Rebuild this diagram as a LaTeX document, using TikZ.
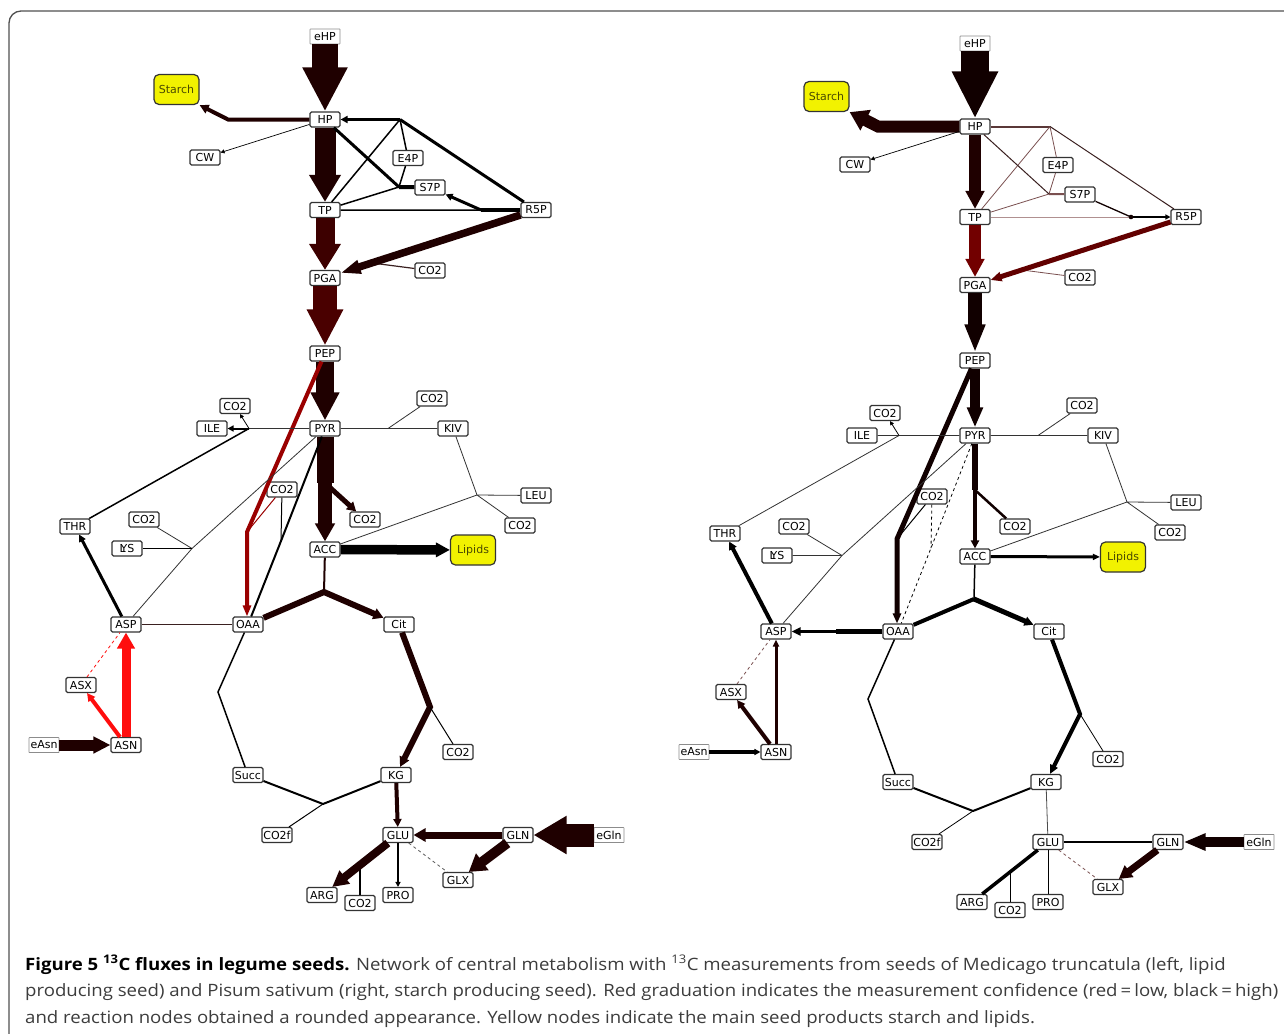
\documentclass[tikz,border=0pt]{standalone}
\usepackage{fontspec}
\usepackage{graphicx}
\usetikzlibrary{arrows.meta,calc}
\newfontfamily\nodefont{DejaVu Sans}
\newfontfamily\capfont{Open Sans}
\definecolor{cA}{HTML}{1F0000}
\definecolor{cB}{HTML}{3D0000}
\definecolor{cC}{HTML}{4A0000}
\definecolor{cR}{HTML}{9A0000}
\definecolor{cRR}{HTML}{FF0D0D}
\definecolor{cD}{HTML}{110000}
\definecolor{cE}{HTML}{720000}
\definecolor{cF}{HTML}{620000}
\definecolor{brA}{HTML}{5A3838}
\definecolor{brB}{HTML}{7A5050}
\definecolor{brC}{HTML}{B09090}
\definecolor{brD}{HTML}{3A2020}
\definecolor{prodY}{HTML}{F2F200}
\definecolor{prodT}{HTML}{4A4A00}
\definecolor{capT}{HTML}{3C3C3C}
\definecolor{frameC}{HTML}{505050}
\newsavebox\capbox
\newdimen\capw
\newcommand\lb[1]{\makebox[24pt]{#1}}
\newcommand\capsize{\capfont\fontsize{17}{20}\selectfont}
\tikzset{
  met/.style={draw=black!80, line width=1.1pt, rounded corners=1.5pt, fill=white,
    minimum width=30pt, minimum height=15pt, inner sep=0pt,
    font=\nodefont\fontsize{11}{13}\selectfont},
  extn/.style={met, draw=black!45, line width=0.7pt, rounded corners=0.5pt},
  prod/.style={draw=black!80, line width=1.2pt, rounded corners=5pt, fill=prodY,
    minimum width=45pt, minimum height=30pt, inner sep=0pt, text=prodT,
    font=\nodefont\fontsize{11}{13}\selectfont},
  ah/.style 2 args={-{Triangle[width=#1pt,length=#2pt]}},
  ahs/.style 2 args={{Triangle[width=#1pt,length=#2pt]}-},
  capline/.style={anchor=base west, inner sep=0pt, text=capT}
}
\newcommand\placenodes[1]{%
  \node[extn] (#1eHP) at (325,36.5) {\lb{eHP}};
  \node[prod] (#1Starch) at (176.5,89.5) {Starch};
  \node[met] (#1HP) at (325,119.5) {\lb{HP}};
  \node[met] (#1CW) at (205,157.5) {\lb{CW}};
  \node[met] (#1E4P) at (408,158) {\lb{E4P}};
  \node[met] (#1S7P) at (430,187.5) {\lb{S7P}};
  \node[met] (#1TP) at (325,210) {\lb{TP}};
  \node[met] (#1R5P) at (536,210) {\lb{R5P}};
  \node[met] (#1PGA) at (325,278) {\lb{PGA}};
  \node[met] (#1co2pga) at (430,270.5) {\lb{CO2}};
  \node[met] (#1PEP) at (325,353.5) {\lb{PEP}};
  \node[met] (#1co2ile) at (235,406) {\lb{CO2}};
  \node[met] (#1ILE) at (212,428.5) {\lb{ILE}};
  \node[met] (#1PYR) at (325,428.5) {\lb{PYR}};
  \node[met] (#1co2kiv) at (432,398.5) {\lb{CO2}};
  \node[met] (#1KIV) at (453,428.5) {\lb{KIV}};
  \node[met] (#1co2mid) at (282,489.5) {\lb{CO2}};
  \node[met] (#1LEU) at (536,495.5) {\lb{LEU}};
  \node[met] (#1co2leu) at (520,525.5) {\lb{CO2}};
  \node[met] (#1THR) at (75,526.5) {\lb{THR}};
  \node[met] (#1co2lys) at (144,519.5) {\lb{CO2}};
  \node[met] (#1LYS) at (127,548.5) {\lb{L\kern-5pt YS}};
  \node[met] (#1co2acc) at (365,519.5) {\lb{CO2}};
  \node[met] (#1ACC) at (325,549.5) {\lb{ACC}};
  \node[prod] (#1Lipids) at (473,550) {Lipids};
  \node[met] (#1ASP) at (126,624.5) {\lb{ASP}};
  \node[met] (#1OAA) at (248,624.5) {\lb{OAA}};
  \node[met] (#1Cit) at (399,624.5) {\lb{Cit}};
  \node[met] (#1ASX) at (81,685) {\lb{ASX}};
  \node[extn] (#1eAsn) at (44,745) {\lb{eAsn}};
  \node[met] (#1ASN) at (126,745) {\lb{ASN}};
  \node[met] (#1co2kg) at (458,752) {\lb{CO2}};
  \node[met] (#1Succ) at (248,775) {\lb{Succ}};
  \node[met] (#1KG) at (396,775) {\lb{KG}};
  \node[met] (#1CO2f) at (277,835) {\lb{CO2f}};
  \node[met] (#1GLU) at (398,835) {\lb{GLU}};
  \node[met] (#1GLN) at (518,835) {\lb{GLN}};
  \node[extn] (#1eGln) at (609,835) {\lb{eGln}};
  \node[met] (#1GLX) at (458,880) {\lb{GLX}};
  \node[met] (#1ARG) at (322,895) {\lb{ARG}};
  \node[met] (#1co2arg) at (360,903) {\lb{CO2}};
  \node[met] (#1PRO) at (398,895) {\lb{PRO}};
  \coordinate (#1J1) at (400,119.5);
  \coordinate (#1J2) at (399,187);
  \coordinate (#1J3) at (481,210);
  \coordinate (#1Jrp) at (372,263);
  \coordinate (#1Sc) at (228,119.5);
  \coordinate (#1Jk) at (247,532);
  \coordinate (#1Jp) at (281,541);
  \coordinate (#1Jb) at (325,483);
  \coordinate (#1J4) at (249,428.5);
  \coordinate (#1Jkiv) at (388,428.5);
  \coordinate (#1J5) at (477,495);
  \coordinate (#1J6) at (192,548.5);
  \coordinate (#1J7) at (324,592);
  \coordinate (#1Jao) at (186,624.5);
  \coordinate (#1Jos) at (218,692);
  \coordinate (#1J8) at (323,804);
  \coordinate (#1Jck) at (430,707);
  \coordinate (#1J9) at (360,865);
}
\begin{document}
\global\setbox\capbox=\hbox{\capsize producing seed) and Pisum sativum (right, starch producing seed). Red graduation indicates the measurement confidence (red\,=\,low, black\,=\,high)}%
\global\capw=\wd\capbox
\pgfmathparse{1253/\capw}\xdef\capsc{\pgfmathresult}%
\begin{tikzpicture}[x=1pt,y=-1pt]
\useasboundingbox (0,0) rectangle (1284,1033);
\clip (0,0) rectangle (1284,1033);
\fill[white] (0,0) rectangle (1284,1033);
\draw[frameC, line width=1.3pt, rounded corners=12pt] (9,1045) -- (9,11) -- (1296,11) -- (1296,1045);

\placenodes{L}
\begin{scope}[shift={(650,7)}]
\placenodes{R}
\end{scope}

% ================= LEFT PANEL =================
\draw[line width=26pt, cA, ah={42}{44}] (LeHP.south) -- (LHP.north);
\draw[line width=4pt, cA, ah={9}{9}] (LHP.west) -- (LSc) -- (LStarch.south east);
\draw[line width=0.7pt, black, ah={4}{4}] (LHP) -- (LCW);
\draw[line width=21pt, cA, ah={30}{27}] (LHP.south) -- (LTP.north);
\draw[line width=3pt, black, ah={7}{7}] (LJ1) -- (LHP);
\draw[line width=1.5pt, black] (LJ1) -- (LTP) (LJ1) -- (LE4P) (LE4P) -- (LJ2) (LJ2) -- (LTP) (LTP) -- (LJ3);
\draw[line width=3pt, black] (LJ1) -- (LR5P) (LHP) -- (LJ2);
\draw[line width=4pt, black] (LJ2) -- (LS7P);
\draw[line width=3pt, black, ahs={7}{7}] (LS7P) -- (LJ3);
\draw[line width=4.5pt, black] (LJ3) -- (LR5P);
\draw[line width=1.2pt, brD] (Lco2pga) -- (LJrp);
\draw[line width=7.5pt, cA, ah={13}{20}] (LR5P) -- (LPGA);
\draw[line width=19pt, cB, ah={30}{26}] (LTP.south) -- (LPGA.north);
\draw[line width=24pt, cC, ah={34}{36}] (LPGA.south) -- (LPEP.north);
\draw[line width=18pt, cA, ah={27}{28}] (LPEP.south) -- (LPYR.north);
\draw[line width=5pt, cA, ah={10}{9}] (LJb) -- (Lco2acc);
\draw[line width=17pt, cA] (LPYR.south) -- (LJb);
\draw[line width=14pt, cA, ah={19}{18}] (LJb) -- (LACC.north);
\draw[line width=2pt, black] (LPYR) -- (LJp) -- (LOAA);
\draw[line width=1pt, black] (Lco2mid) -- (LJp);
\draw[line width=1pt, cR] (Lco2mid) -- (LJk);
\draw[line width=4pt, cR, ah={8}{11}] (LPEP) -- (LJk) -- (LJk |- LOAA.north);
\draw[line width=0.8pt, black!80] (LPYR) -- (LJ4) (LPYR) -- (LJkiv) -- (LKIV) (LJkiv) -- (Lco2kiv)
  (LKIV) -- (LJ5) -- (LLEU) (LJ5) -- (Lco2leu) (LJ5) -- (LACC)
  (LPYR) -- (LJ6) -- (LASP) (LJ6) -- (Lco2lys);
\draw[line width=1.3pt, black] (LJ6) -- (LLYS);
\draw[line width=2pt, black, ah={6}{6}] (LJ4) -- (LILE);
\draw[line width=0.8pt, black, ah={4}{4}] (LJ4) -- (Lco2ile);
\draw[line width=1.5pt, black] (LTHR) -- (LJ4);
\draw[line width=9.5pt, black, ah={14}{14}] (LACC) -- (LLipids);
\draw[line width=2pt, cA] (LACC) -- (LJ7);
\draw[line width=6pt, cA] (LOAA) -- (LJ7);
\draw[line width=6pt, cA, ah={11}{10}] (LJ7) -- (LCit);
\draw[line width=3pt, black, ah={7}{7}] (LASP) -- (LTHR);
\draw[line width=1.5pt, brD] (LASP) -- (LJao);
\draw[line width=1pt, brD] (LJao) -- (LOAA);
\draw[line width=9pt, cRR, ah={17}{16}] (LASN) -- (LASP);
\draw[line width=4pt, cRR, ah={8}{8}] (LASN) -- (LASX);
\draw[line width=0.8pt, cRR, dashed] (LASX) -- (LASP);
\draw[line width=11pt, cA, ah={16}{17}] (LeAsn) -- (LASN);
\draw[line width=1.5pt, black] (LOAA) -- (LJos) -- (LSucc);
\draw[line width=2pt, black] (LSucc) -- (LJ8) -- (LKG);
\draw[line width=1pt, black] (LJ8) -- (LCO2f);
\draw[line width=6pt, cA, ah={10}{10}] (LCit) -- (LJck) -- (LKG);
\draw[line width=1pt, black] (LJck) -- (Lco2kg);
\draw[line width=4pt, cA, ah={8}{8}] (LKG) -- (LGLU);
\draw[line width=7pt, cA, ah={13}{12}] (LGLN) -- (LGLU);
\draw[line width=23pt, cA, ah={36}{33}] (LeGln) -- (LGLN);
\draw[line width=10pt, cA, ah={20}{17}] (LGLN) -- (LGLX);
\draw[line width=0.8pt, black!65, dashed] (LGLU) -- (LGLX);
\draw[line width=1.5pt, black] (LJ9) -- (Lco2arg);
\draw[line width=8pt, cA, ah={16}{16}] (LGLU) -- (LARG);
\draw[line width=2pt, black, ah={5}{5}] (LGLU) -- (LPRO);

% ================= RIGHT PANEL =================
\draw[line width=28pt, cD, ah={43}{47}] (ReHP.south) -- (RHP.north);
\draw[line width=12pt, cA, ah={22}{18}] (RHP.west) -- (RSc) -- (RStarch.south east);
\draw[line width=0.7pt, black, ah={4}{4}] (RHP) -- (RCW);
\draw[line width=12pt, cA, ah={18}{18}] (RHP.south) -- (RTP.north);
\draw[line width=2pt, brA] (RHP) -- (RJ1);
\draw[line width=0.8pt, brB] (RJ1) -- (RTP) (RJ1) -- (RE4P) (RJ2) -- (RTP) (RE4P) -- (RJ2);
\draw[line width=1pt, brD] (RJ1) -- (RR5P) (RHP) -- (RJ2);
\draw[line width=2pt, brB] (RJ2) -- (RS7P);
\draw[line width=0.8pt, brC] (RTP) -- (RJ3);
\draw[line width=1.3pt, cD] (RS7P) -- (RJ3);
\draw[line width=1.3pt, black, ah={5}{5}] (RJ3) -- (RR5P);
\fill[cD] (RJ3) circle (2.3pt);
\draw[line width=0.8pt, brB] (Rco2pga) -- (RJrp);
\draw[line width=5pt, cF, ah={9}{11}] (RR5P) -- (RPGA);
\draw[line width=12pt, cE, ah={18}{18}] (RTP.south) -- (RPGA.north);
\draw[line width=14pt, cD, ah={19}{28}] (RPGA.south) -- (RPEP.north);
\draw[line width=10pt, cD, ah={15}{20}] (RPEP.south) -- (RPYR.north);
\draw[line width=2.5pt, cD] (RJb) -- (Rco2acc);
\draw[line width=5.5pt, cD] (RPYR.south) -- (RJb);
\draw[line width=4pt, cD, ah={8}{8}] (RJb) -- (RACC.north);
\draw[line width=0.8pt, black, dashed] (RPYR) -- (RJp) -- (ROAA) (Rco2mid) -- (RJp);
\draw[line width=1pt, black] (Rco2mid) -- (RJk);
\draw[line width=5pt, cD, ah={8}{10}] (RPEP) -- (RJk) -- (RJk |- ROAA.north);
\draw[line width=0.8pt, black!80] (RPYR) -- (RJ4) (RJ4) -- (RILE) (RPYR) -- (RJkiv) -- (RKIV) (RJkiv) -- (Rco2kiv)
  (RKIV) -- (RJ5) -- (RLEU) (RJ5) -- (Rco2leu) (RJ5) -- (RACC)
  (RPYR) -- (RJ6) -- (RASP) (RJ6) -- (Rco2lys) (RJ6) -- (RLYS) (RTHR) -- (RJ4);
\draw[line width=0.8pt, black, ah={4}{4}] (RJ4) -- (Rco2ile);
\draw[line width=3pt, black, ah={6}{7}] (RACC) -- (RLipids);
\draw[line width=1.5pt, black] (RACC) -- (RJ7);
\draw[line width=4pt, black] (ROAA) -- (RJ7);
\draw[line width=5pt, black, ah={9}{9}] (RJ7) -- (RCit);
\draw[line width=4pt, black, ah={8}{8}] (RASP) -- (RTHR);
\draw[line width=4.5pt, black] (ROAA) -- (RJao);
\draw[line width=3.5pt, black, ah={8}{9}] (RJao) -- (RASP);
\draw[line width=3pt, cA, ah={6}{7}] (RASN) -- (RASP);
\draw[line width=4pt, cA, ah={8}{8}] (RASN) -- (RASX);
\draw[line width=0.8pt, brB, dashed] (RASX) -- (RASP);
\draw[line width=4pt, black, ah={6}{6}] (ReAsn) -- (RASN);
\draw[line width=1.5pt, black] (ROAA) -- (RJos) -- (RSucc);
\draw[line width=2pt, black] (RSucc) -- (RJ8) -- (RKG);
\draw[line width=0.8pt, black] (RJ8) -- (RCO2f);
\draw[line width=4pt, black, ah={8}{9}] (RCit) -- (RJck) -- (RKG);
\draw[line width=0.8pt, black] (RJck) -- (Rco2kg);
\draw[line width=0.8pt, black!70] (RKG) -- (RGLU);
\draw[line width=2pt, black] (RGLU) -- (RGLN);
\draw[line width=10pt, cD, ah={16}{22}] (ReGln) -- (RGLN);
\draw[line width=7pt, cA, ah={14}{13}] (RGLN) -- (RGLX);
\draw[line width=0.8pt, brB, dashed] (RGLU) -- (RGLX);
\draw[line width=1pt, black] (RJ9) -- (Rco2arg);
\draw[line width=3.5pt, black] (RGLU) -- (RARG);
\draw[line width=1pt, black] (RGLU) -- (RPRO);

% ================= CAPTION =================
\node[capline] (cap1) at (25,970) {\scalebox{\capsc}[1]{\capsize
  \textcolor{black}{\textbf{Figure 5 \textsuperscript{13}C fluxes in legume seeds.}} Network of central metabolism with \textsuperscript{13}C measurements from seeds of Medicago truncatula (left, lipid}};
\node[capline] (cap2) at (25,996.5) {\scalebox{\capsc}[1]{\capsize
  producing seed) and Pisum sativum (right, starch producing seed). Red graduation indicates the measurement confidence (red\,=\,low, black\,=\,high)}};
\node[capline] (cap3) at (25,1023) {\scalebox{\capsc}[1]{\capsize
  and reaction nodes obtained a rounded appearance. Yellow nodes indicate the main seed products starch and lipids.}};
\end{tikzpicture}
\end{document}
